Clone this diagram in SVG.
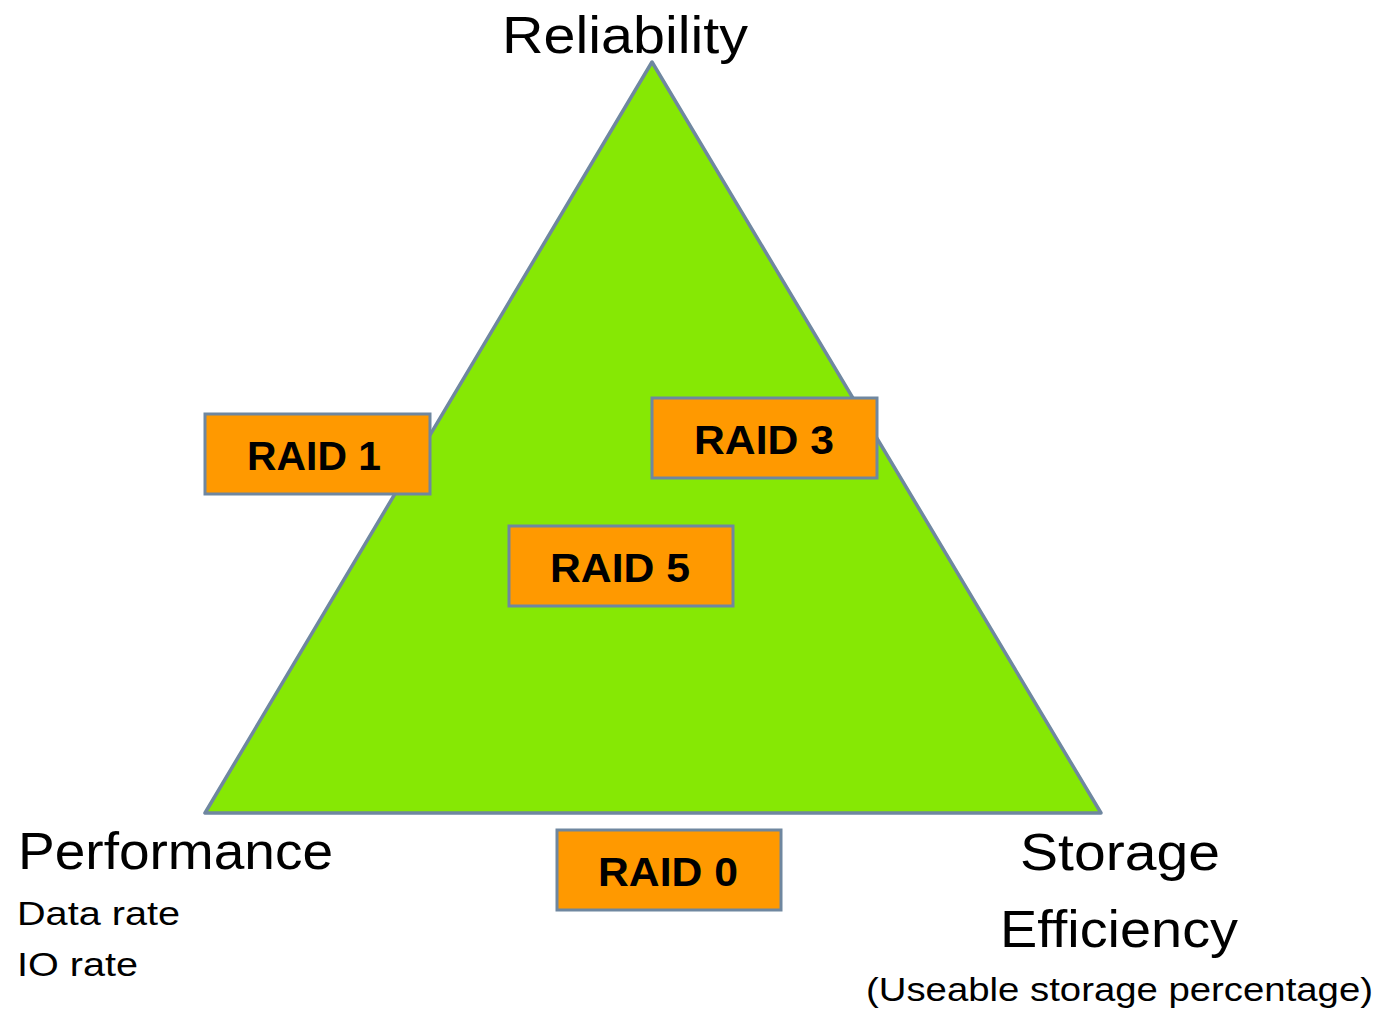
<svg xmlns="http://www.w3.org/2000/svg" width="1380" height="1011" viewBox="0 0 1380 1011">
<style>
.lbl{font-family:"Liberation Sans","DejaVu Sans",sans-serif;fill:#000}
.box rect{fill:#FF9900;stroke:#6F87A0;stroke-width:3}
.box text{font-family:"Liberation Sans","DejaVu Sans",sans-serif;font-weight:bold;font-size:40px;fill:#000;text-anchor:middle}
</style>
<rect width="1380" height="1011" fill="#fff"/>
<g id="triangle">
<polygon points="652,62 205,813 1101,813" fill="#86E804" stroke="#6F87A0" stroke-width="3.5" stroke-linejoin="round"/>
</g>
<g id="connectors"></g>
<g id="raid1" class="box"><rect x="205" y="414" width="225" height="80"/><text x="314" y="470" textLength="134" lengthAdjust="spacingAndGlyphs">RAID 1</text></g>
<g id="raid3" class="box"><rect x="652" y="398" width="225" height="80"/><text x="764" y="454" textLength="140" lengthAdjust="spacingAndGlyphs">RAID 3</text></g>
<g id="raid5" class="box"><rect x="509" y="526" width="224" height="80"/><text x="620" y="582" textLength="140" lengthAdjust="spacingAndGlyphs">RAID 5</text></g>
<g id="raid0" class="box"><rect x="557" y="830" width="224" height="80"/><text x="668" y="886" textLength="140" lengthAdjust="spacingAndGlyphs">RAID 0</text></g>
<g id="reliability"><text class="lbl" x="502" y="53" font-size="52" textLength="246" lengthAdjust="spacingAndGlyphs">Reliability</text></g>
<g id="performance">
<text class="lbl" x="18" y="869" font-size="52" textLength="315" lengthAdjust="spacingAndGlyphs">Performance</text>
<text class="lbl" x="17" y="925" font-size="33" textLength="163" lengthAdjust="spacingAndGlyphs">Data rate</text>
<text class="lbl" x="17" y="976" font-size="33" textLength="121" lengthAdjust="spacingAndGlyphs">IO rate</text>
</g>
<g id="storage">
<text class="lbl" x="1020" y="870" font-size="52" textLength="200" lengthAdjust="spacingAndGlyphs">Storage</text>
<text class="lbl" x="1000" y="947" font-size="52" textLength="238" lengthAdjust="spacingAndGlyphs">Efficiency</text>
<text class="lbl" x="866" y="1001" font-size="34" textLength="507" lengthAdjust="spacingAndGlyphs">(Useable storage percentage)</text>
</g>
</svg>
